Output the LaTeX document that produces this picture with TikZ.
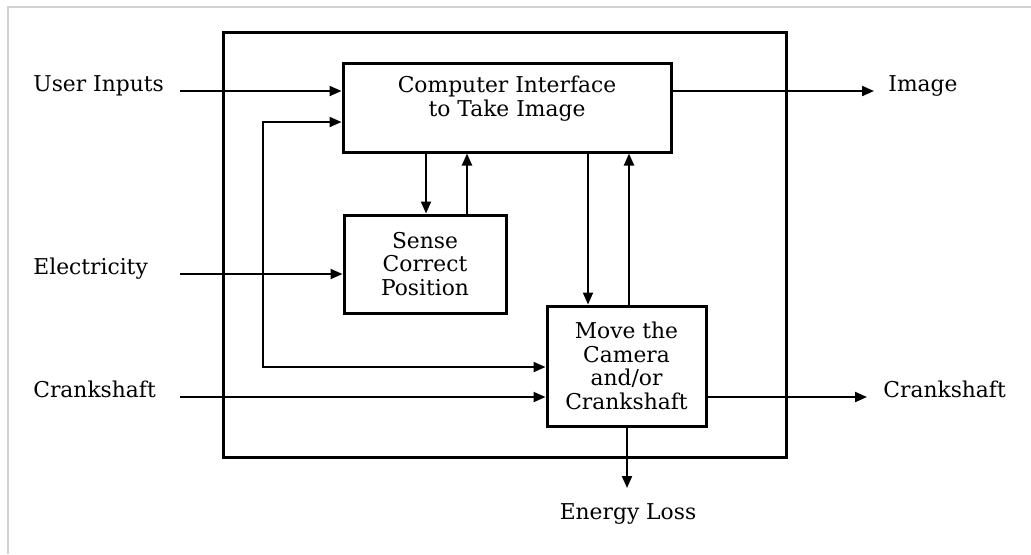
\documentclass[tikz,border=0pt]{standalone}
\usepackage{fontspec}
\setmainfont{DejaVu Serif}
\usetikzlibrary{arrows.meta,positioning}
\newcommand{\diagfont}{\fontsize{10.9}{11.8}\selectfont}

\begin{document}
\begin{tikzpicture}[x=0.5pt, y=-0.5pt,
  box/.style={draw, line width=1.5pt, align=center, inner sep=0pt, font=\diagfont},
  lbl/.style={anchor=base west, inner sep=0pt, font=\diagfont},
  arr/.style={-{Triangle[length=6pt, width=5pt]}, line width=1pt},
  dblarr/.style={{Triangle[length=6pt, width=5pt]}-{Triangle[length=6pt, width=5pt]}, line width=1pt}]
\useasboundingbox (0,0) rectangle (1031,554);
\draw[black!18, line width=1pt] (8,554) -- (8,7) -- (1031,7);
% system boundary and blocks
\node[box, minimum width=281.5pt, minimum height=212.5pt] (sys) at (504.5,244.5) {};
\node[box, minimum width=164pt, minimum height=44.5pt, text depth=11pt] (ci) at (507,107.5)
  {Computer Interface\\to Take Image};
\node[box, minimum width=81pt, minimum height=49pt] (sense) at (425,264)
  {Sense\\Correct\\Position};
\node[box, minimum width=79.5pt, minimum height=60pt] (mv) at (626.5,366)
  {Move the\\Camera\\and/or\\Crankshaft};
% inputs and outputs
\node[lbl] (ui) at (33,91) {User Inputs};
\node[lbl] (el) at (33,274) {Electricity};
\node[lbl] (ckin) at (33,397) {Crankshaft};
\node[lbl] (img) at (888,91) {Image};
\node[lbl] (ckout) at (883,397) {Crankshaft};
\node[lbl, anchor=base] (loss) at (628,519) {Energy Loss};
\coordinate (uistart) at (180,91);
\coordinate (elstart) at (180,274);
\coordinate (ckstart) at (180,397);
\coordinate (imgend) at (874,91);
\coordinate (ckend) at (867,397);
\coordinate (lossend) at (627,488);
\coordinate (fb) at (263,367);
\draw[arr] (uistart) -- (uistart -| ci.west);
\draw[arr] (elstart) -- (elstart -| sense.west);
\draw[arr] (ckstart) -- (ckstart -| mv.west);
\draw[dblarr] (ci.west |- 0,122) -| (fb) -- (fb -| mv.west);
\draw[arr] (ci.south -| 426,0) -- (sense.north -| 426,0);
\draw[arr] (sense.north -| 467,0) -- (ci.south -| 467,0);
\draw[arr] (ci.south -| 588,0) -- (mv.north -| 588,0);
\draw[arr] (mv.north -| 629,0) -- (ci.south -| 629,0);
\draw[arr] (ci.east |- imgend) -- (imgend);
\draw[arr] (mv.east |- ckend) -- (ckend);
\draw[arr] (mv.south -| lossend) -- (lossend);
\end{tikzpicture}
\end{document}
